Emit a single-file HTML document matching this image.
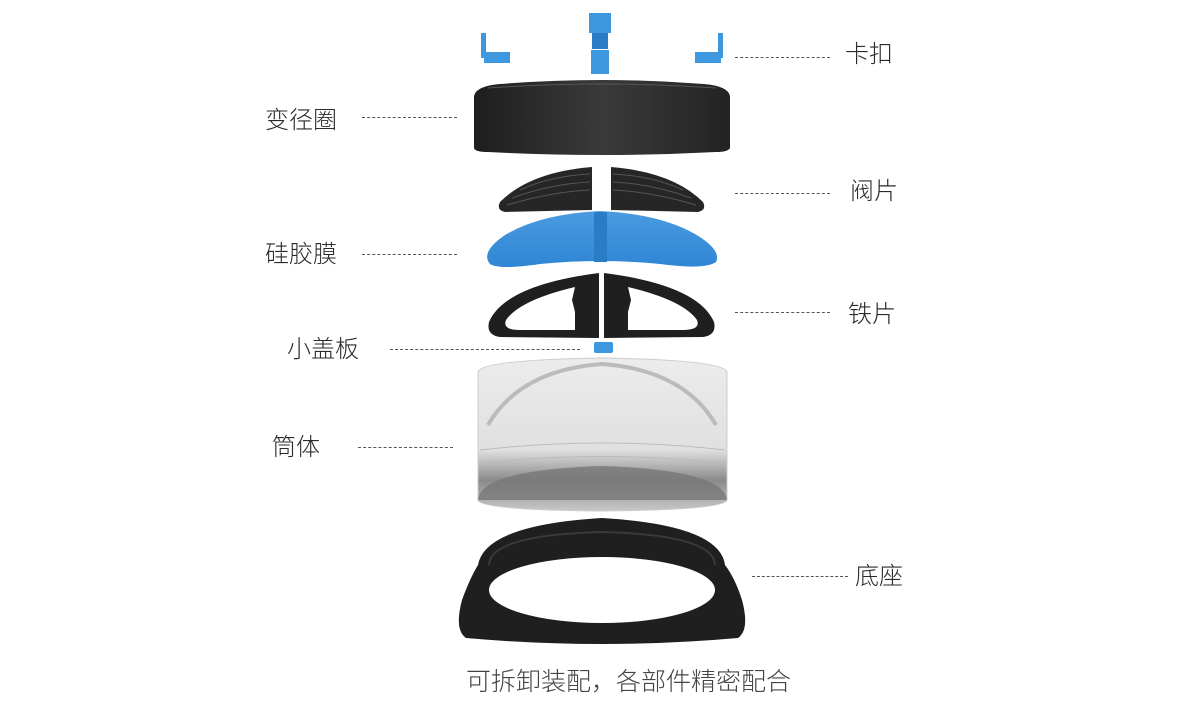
<!DOCTYPE html>
<html><head><meta charset="utf-8"><style>
html,body{margin:0;padding:0;background:#fff;}
body{width:1200px;height:709px;overflow:hidden;position:relative;}
.l{position:absolute;font-family:"Liberation Sans","Noto Sans CJK SC",sans-serif;font-size:24px;font-weight:300;color:#2a2a2a;line-height:1;white-space:nowrap;}
.d{position:absolute;border-top:1px dashed #555;height:0;}
</style></head><body>
<svg width="1200" height="709" style="position:absolute;left:0;top:0">
<defs>
<linearGradient id="ring" x1="0" x2="1"><stop offset="0" stop-color="#1e1e1e"/><stop offset=".5" stop-color="#3a3a3a"/><stop offset="1" stop-color="#232323"/></linearGradient>
<linearGradient id="blue" x1="0" y1="0" x2="0" y2="1"><stop offset="0" stop-color="#4a9be0"/><stop offset="1" stop-color="#2f86d4"/></linearGradient>
<linearGradient id="cyl" x1="0" y1="0" x2="0" y2="1"><stop offset="0" stop-color="#ececec"/><stop offset=".6" stop-color="#e0e0e0"/><stop offset=".8" stop-color="#8a8a8a"/><stop offset="1" stop-color="#c8c8c8"/></linearGradient>
</defs>
<g fill="#3d98e0">
<rect x="481" y="33" width="5" height="25"/><rect x="484" y="52" width="26" height="11"/>
<rect x="589" y="13" width="22" height="20"/><rect x="592" y="33" width="16" height="16" fill="#2a7cc4"/><rect x="591" y="50" width="18" height="24"/>
<rect x="718" y="33" width="5" height="25"/><rect x="695" y="52" width="26" height="11"/>
</g>
<path d="M474 96 Q476 86 500 84 Q602 76 704 84 Q728 86 730 96 L730 148 Q728 152 716 152 Q602 158 488 152 Q475 152 474 148 Z" fill="url(#ring)"/>
<path d="M488 88 Q602 80 716 88" stroke="#555" fill="none"/>
<path d="M592 167 L592 210 L505 212 Q496 210 500 202 Q530 172 592 167 Z" fill="#262626"/>
<path d="M611 167 L611 210 L698 212 Q707 210 703 202 Q673 172 611 167 Z" fill="#262626"/>
<g stroke="#555" stroke-width="1" fill="none">
<path d="M520 190 Q550 176 590 174"/><path d="M512 198 Q550 184 590 182"/><path d="M507 205 Q550 192 590 190"/>
<path d="M683 190 Q653 176 613 174"/><path d="M691 198 Q653 184 613 182"/><path d="M696 205 Q653 192 613 190"/>
</g>
<path d="M600 211 Q540 214 505 235 Q480 252 490 264 Q500 270 540 264 Q600 258 660 264 Q705 270 716 262 Q722 250 695 234 Q660 214 600 211 Z" fill="url(#blue)"/>
<rect x="594" y="212" width="13" height="50" fill="#2a7cc4"/>
<path d="M599 273 L599 338 L500 337 Q486 335 489 322 Q505 285 599 273 Z" fill="#1f1f1f"/>
<path d="M604 273 L604 338 L703 337 Q717 335 714 322 Q698 285 604 273 Z" fill="#1f1f1f"/>
<path d="M575 287 Q520 300 506 320 Q502 330 520 330 L575 330 L575 312 L572 300 Z" fill="#fff"/>
<path d="M628 287 Q683 300 697 320 Q701 330 683 330 L628 330 L628 312 L631 300 Z" fill="#fff"/>
<rect x="594" y="342" width="19" height="11" rx="2" fill="#3d98e0"/>
<path d="M478 372 Q480 360 602 358 Q724 360 727 372 L727 500 Q724 510 602 511 Q480 510 478 500 Z" fill="url(#cyl)" stroke="#ccc"/>
<path d="M478 500 Q480 470 602 466 Q724 470 727 500" fill="#777" opacity=".8"/>
<path d="M488 425 Q520 370 602 364 Q684 370 716 425" fill="none" stroke="#bbb" stroke-width="4"/>
<path d="M480 450 Q602 436 725 450" fill="none" stroke="#bbb"/>
<path d="M480 463 Q602 450 725 463" fill="none" stroke="#bbb"/>
<path d="M462 600 Q470 578 478 565 Q485 525 602 518 Q720 525 725 565 Q735 578 742 600 Q750 630 738 638 Q602 650 466 638 Q454 630 462 600 Z" fill="#1f1f1f"/>
<ellipse cx="602" cy="590" rx="113" ry="33" fill="#fff"/>
<path d="M489 565 Q490 535 602 532 Q714 535 715 565" fill="none" stroke="#3a3a3a" stroke-width="2"/>
</svg>
<div class="d" style="left:735px;top:57px;width:95px"></div><div class="l" style="left:845px;top:43px">卡扣</div>
<div class="d" style="left:362px;top:117px;width:95px"></div><div class="l" style="left:265px;top:109px">变径圈</div>
<div class="d" style="left:735px;top:193px;width:95px"></div><div class="l" style="left:850px;top:180px">阀片</div>
<div class="d" style="left:362px;top:254px;width:95px"></div><div class="l" style="left:265px;top:243px">硅胶膜</div>
<div class="d" style="left:735px;top:312px;width:95px"></div><div class="l" style="left:848px;top:303px">铁片</div>
<div class="d" style="left:390px;top:349px;width:190px"></div><div class="l" style="left:287px;top:338px">小盖板</div>
<div class="d" style="left:358px;top:447px;width:95px"></div><div class="l" style="left:272px;top:436px">筒体</div>
<div class="d" style="left:752px;top:576px;width:96px"></div><div class="l" style="left:855px;top:565px">底座</div>
<div class="l" style="left:466px;top:670px;color:#444;font-size:25px">可拆卸装配，各部件精密配合</div>
</body></html>
